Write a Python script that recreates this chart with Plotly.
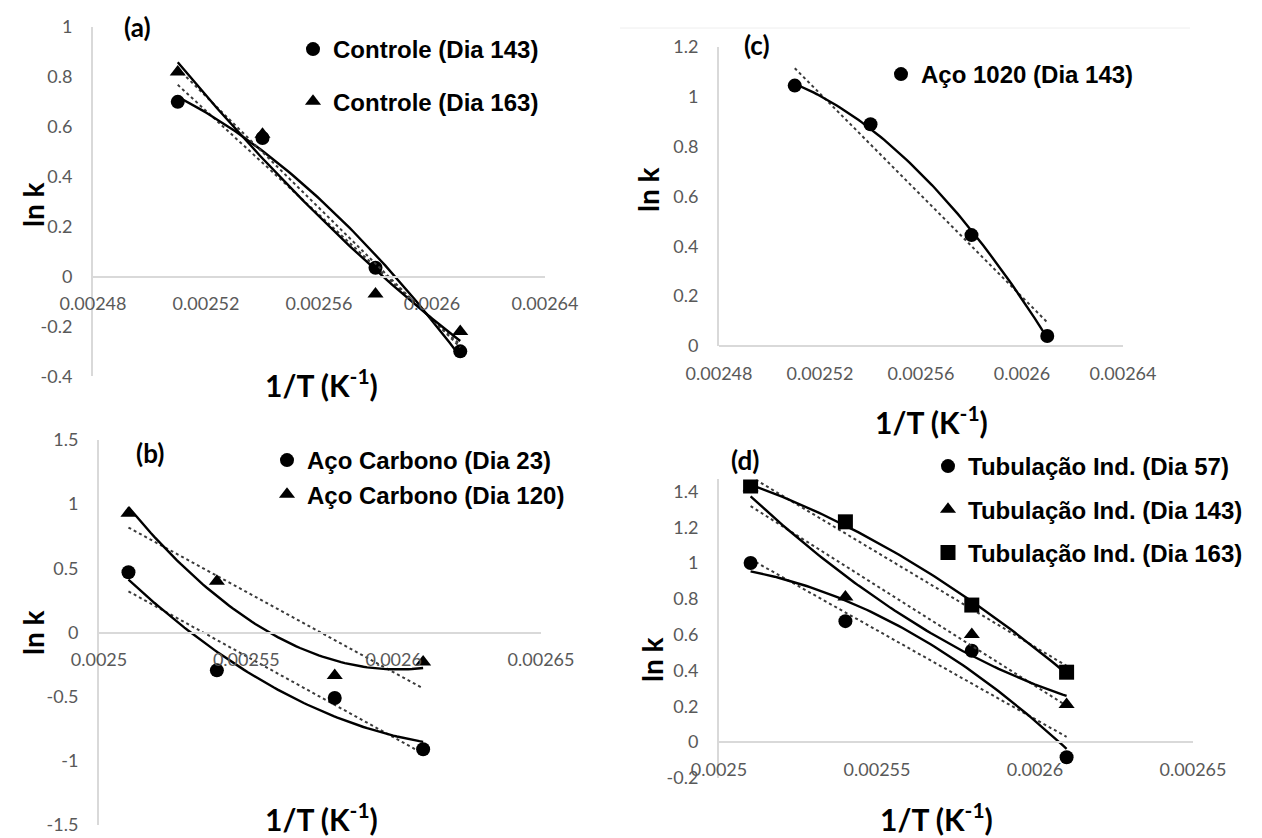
import numpy as np
import plotly.graph_objects as go

W, H = 1262, 838
OFF = 8  # page body margin of the html page

# ---------------- data ----------------
inv_T = [0.00251, 0.00254, 0.00258, 0.00261]

a_controle_143 = [0.70, 0.555, 0.035, -0.30]
a_controle_163 = [0.82, 0.57, -0.07, -0.22]

b_carbono_23 = [0.47, -0.295, -0.51, -0.91]
b_carbono_120 = [0.93, 0.40, -0.335, -0.23]

c_aco1020_143 = [1.045, 0.89, 0.445, 0.04]

d_tub_57 = [1.00, 0.675, 0.51, -0.085]
d_tub_143 = [1.42, 0.81, 0.60, 0.21]
d_tub_163 = [1.43, 1.23, 0.765, 0.39]

xt_ac = [0.00248, 0.00252, 0.00256, 0.0026, 0.00264]
xt_ac_text = ["0.00248", "0.00252", "0.00256", "0.0026", "0.00264"]
xt_bd = [0.0025, 0.00255, 0.0026, 0.00265]
xt_bd_text = ["0.0025", "0.00255", "0.0026", "0.00265"]

yt_a = [-0.4, -0.2, 0, 0.2, 0.4, 0.6, 0.8, 1]
yt_a_text = ["-0.4", "-0.2", "0", "0.2", "0.4", "0.6", "0.8", "1"]
yt_b = [-1.5, -1, -0.5, 0, 0.5, 1, 1.5]
yt_b_text = ["-1.5", "-1", "-0.5", "0", "0.5", "1", "1.5"]
yt_c = [0, 0.2, 0.4, 0.6, 0.8, 1, 1.2]
yt_c_text = ["0", "0.2", "0.4", "0.6", "0.8", "1", "1.2"]
yt_d = [-0.2, 0, 0.2, 0.4, 0.6, 0.8, 1, 1.2, 1.4]
yt_d_text = ["-0.2", "0", "0.2", "0.4", "0.6", "0.8", "1", "1.2", "1.4"]

# ---------------- layout helpers ----------------
def px(v):
    return (v - OFF) / W

def py(v):
    return 1 - (v - OFF) / H

panels = {
    "a": dict(xpix=(93, 545), xr=[0.00248, 0.00264], ypix=(27, 376.3), yr=[-0.4, 1.0],
              xt=xt_ac, xtt=xt_ac_text, yt=yt_a, ytt=yt_a_text),
    "b": dict(xpix=(99, 541), xr=[0.0025, 0.00265], ypix=(440, 825), yr=[-1.5, 1.5],
              xt=xt_bd, xtt=xt_bd_text, yt=yt_b, ytt=yt_b_text),
    "c": dict(xpix=(719, 1123), xr=[0.00248, 0.00264], ypix=(47, 346), yr=[0, 1.2],
              xt=xt_ac, xtt=xt_ac_text, yt=yt_c, ytt=yt_c_text),
    "d": dict(xpix=(719, 1193), xr=[0.0025, 0.00265], ypix=(479.4, 777.8), yr=[-0.2, 1.467],
              xt=xt_bd, xtt=xt_bd_text, yt=yt_d, ytt=yt_d_text),
}
axis_ids = {"a": "", "b": "2", "c": "3", "d": "4"}

GRAY_LINE = "#d9d9d9"
TICK_COLOR = "#595959"
TICK_FONT = dict(family="Lato, Open Sans, sans-serif", size=18, color=TICK_COLOR)

fig = go.Figure()
layout = dict(
    template="none",
    width=W, height=H,
    margin=dict(l=0, r=0, t=0, b=0, pad=0, autoexpand=False),
    paper_bgcolor="white", plot_bgcolor="white",
    showlegend=True,
)

for key, p in panels.items():
    k = axis_ids[key]
    ydom = [py(p["ypix"][1]), py(p["ypix"][0])]
    xdom = [px(p["xpix"][0]), px(p["xpix"][1])]
    zero_frac = ydom[0] + (0 - p["yr"][0]) / (p["yr"][1] - p["yr"][0]) * (ydom[1] - ydom[0])
    layout["xaxis" + k] = dict(
        domain=xdom, range=p["xr"], anchor="free", position=zero_frac,
        showline=True, linecolor=GRAY_LINE, linewidth=2, showgrid=False, zeroline=False,
        ticks="", tickvals=p["xt"], ticktext=p["xtt"], tickfont=TICK_FONT,
        ticklabelstandoff=11, fixedrange=True, automargin=False,
    )
    layout["yaxis" + k] = dict(
        domain=ydom, range=p["yr"], anchor="x" + k, showline=True, linecolor=GRAY_LINE,
        linewidth=2, showgrid=False, zeroline=False, ticks="", tickvals=p["yt"],
        ticktext=p["ytt"], tickfont=TICK_FONT, ticklabelstandoff=15, fixedrange=True,
        automargin=False,
    )

# ---------------- traces ----------------
series = [
    ("a", "Controle (Dia 143)", a_controle_143, "circle", "legend"),
    ("a", "Controle (Dia 163)", a_controle_163, "triangle-up", "legend"),
    ("b", "Aço Carbono (Dia 23)", b_carbono_23, "circle", "legend2"),
    ("b", "Aço Carbono (Dia 120)", b_carbono_120, "triangle-up", "legend2"),
    ("c", "Aço 1020 (Dia 143)", c_aco1020_143, "circle", "legend3"),
    ("d", "Tubulação Ind. (Dia 57)", d_tub_57, "circle", "legend4"),
    ("d", "Tubulação Ind. (Dia 143)", d_tub_143, "triangle-up", "legend4"),
    ("d", "Tubulação Ind. (Dia 163)", d_tub_163, "square", "legend4"),
]

xs = np.array(inv_T)
xfit = np.linspace(xs.min(), xs.max(), 80)
u = (xs - 0.00256) * 1e5
ufit = (xfit - 0.00256) * 1e5

for key, name, ys, sym, leg in series:
    k = axis_ids[key]
    xa, ya = "x" + k, "y" + k
    ys = np.array(ys)
    lin = np.polyval(np.polyfit(u, ys, 1), ufit)
    quad = np.polyval(np.polyfit(u, ys, 2), ufit)
    fig.add_trace(go.Scatter(x=xfit, y=lin, mode="lines", xaxis=xa, yaxis=ya,
                             line=dict(color="#3a3a3a", width=2, dash="dot"),
                             showlegend=False, hoverinfo="skip"))
    fig.add_trace(go.Scatter(x=xfit, y=quad, mode="lines", xaxis=xa, yaxis=ya,
                             line=dict(color="black", width=2.4),
                             showlegend=False, hoverinfo="skip"))
    msize = 15 if sym == "square" else 14
    fig.add_trace(go.Scatter(x=inv_T, y=ys, mode="markers", name=name, xaxis=xa, yaxis=ya,
                             marker=dict(symbol=sym, size=msize, color="black"),
                             legend=leg, legendgroup=name))

LEG_FONT = dict(family="Liberation Sans, Arial, sans-serif", size=24, color="black", weight="bold")

def legend_at(xpix_marker, ypix_top, gap):
    return dict(x=px(xpix_marker - 20), y=py(ypix_top), xanchor="left", yanchor="top",
                bgcolor="rgba(0,0,0,0)", font=LEG_FONT, tracegroupgap=gap,
                itemsizing="trace")

layout["legend"] = legend_at(313, 27, 18)
layout["legend2"] = legend_at(287, 438, 0)
layout["legend3"] = legend_at(901, 52, 0)
layout["legend4"] = legend_at(948, 444, 9)

# ---------------- text annotations ----------------
TITLE_FONT = dict(family="Lato, Open Sans, sans-serif", size=30, color="black", weight="bold")
ann = []
for (xc, yc) in [(33, 205), (33, 633), (648, 190), (652, 660)]:
    ann.append(dict(text="ln k", x=px(xc), y=py(yc), xref="paper", yref="paper",
                    xanchor="center", yanchor="middle",
                    showarrow=False, textangle=-90, font=dict(TITLE_FONT, size=28)))
for (xc, yc) in [(321, 383), (321, 817), (931, 420), (936, 817)]:
    ann.append(dict(text="1/T (K<sup>-1</sup>)", x=px(xc), y=py(yc), xref="paper", yref="paper",
                    xanchor="center", yanchor="middle", showarrow=False, font=TITLE_FONT))
for (t, xc, yc) in [("(a)", 137, 27), ("(b)", 150, 453), ("(c)", 757, 45), ("(d)", 745, 460)]:
    ann.append(dict(text=t, x=px(xc), y=py(yc), xref="paper", yref="paper",
                    xanchor="center", yanchor="middle",
                    showarrow=False, font=dict(TITLE_FONT, size=26)))
layout["annotations"] = ann

layout["shapes"] = [dict(type="line", xref="paper", yref="paper", x0=px(620), x1=px(1190),
                         y0=py(28), y1=py(28), line=dict(color="#eeeeee", width=1))]

fig.update_layout(**layout)
fig.write_html("out.html")
